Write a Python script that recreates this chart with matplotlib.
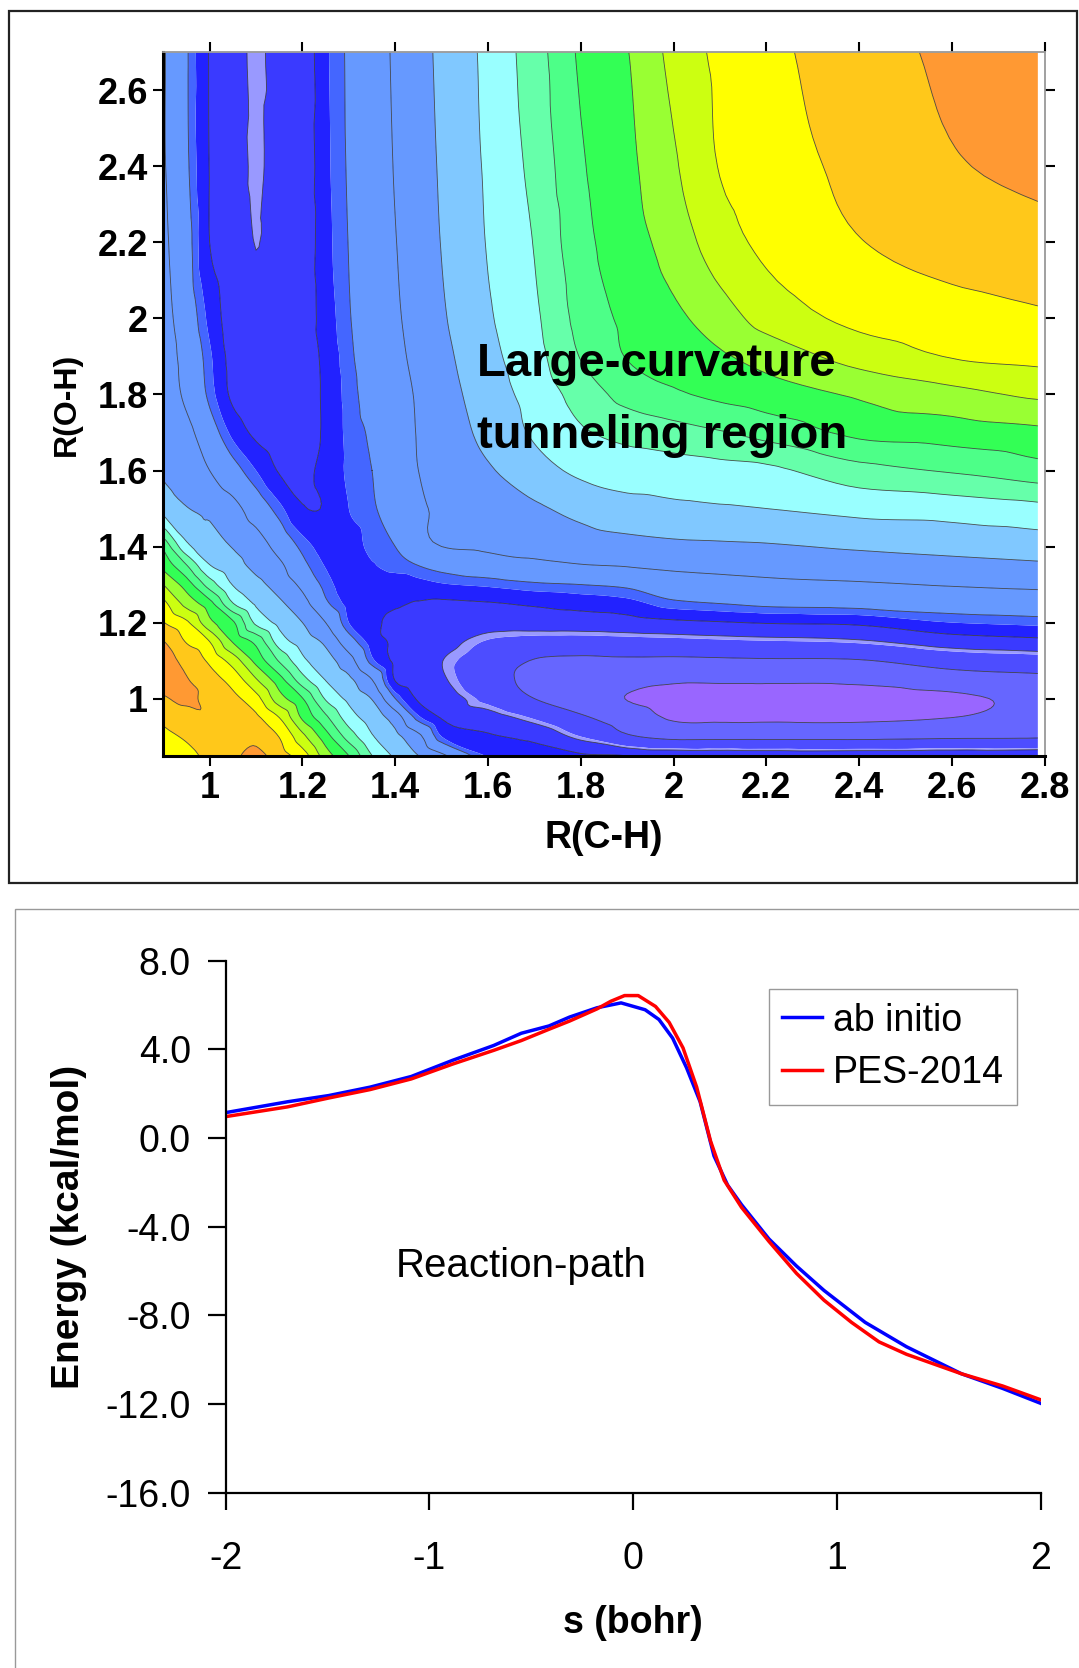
import numpy as np
import matplotlib.pyplot as plt
import matplotlib.tri as mtri
from matplotlib.patches import Rectangle

plt.rcParams['font.family'] = ['Liberation Sans', 'DejaVu Sans']
plt.rcParams['axes.unicode_minus'] = False

# ---------------- top panel: potential energy surface (band values)
r_ch = [0.90, 0.95, 1.00, 1.05, 1.10, 1.15, 1.20, 1.25, 1.30, 1.35, 1.40, 1.45, 1.50,
        1.60, 1.70, 1.80, 1.90, 2.00, 2.10, 2.20, 2.40, 2.60, 2.785]
r_oh = [0.85, 0.90, 0.95, 1.00, 1.05, 1.10, 1.15, 1.20, 1.25, 1.30, 1.35, 1.40, 1.50,
        1.60, 1.70, 1.80, 1.90, 2.00, 2.20, 2.40, 2.70]

energy_level = [
    [14.55, 14.8, 15.2, 15.8, 16.25, 15.45, 14.47, 12.5, 11.0, 9.0, 7.83, 7.0, 6.2, 4.55, 4.35, 4.12, 3.98, 3.85, 3.8, 3.75, 3.75, 3.8, 3.85],
    [14.8, 15.1, 15.45, 15.85, 15.75, 14.97, 13.28, 11.44, 9.57, 8.1, 7.28, 6.23, 4.6, 4.1, 3.8, 3.0, 2.15, 1.75, 1.75, 1.75, 1.75, 1.85, 1.9],
    [15.2, 15.55, 15.9, 15.65, 15.2, 14.0, 11.84, 10.22, 8.5, 7.5, 6.54, 4.73, 3.95, 3.52, 2.92, 2.15, 1.5, 0.9, 0.85, 0.85, 0.85, 1.0, 1.4],
    [15.9, 16.2, 15.7, 15.24, 14.34, 12.43, 11.05, 8.9, 7.75, 6.95, 5.0, 3.9, 3.6, 2.8, 2.0, 1.45, 0.98, 0.72, 0.62, 0.55, 0.6, 0.82, 1.25],
    [16.3, 16.05, 15.43, 14.6, 13.08, 11.4, 9.4, 7.95, 7.2, 6.0, 3.95, 3.6, 3.3, 2.4, 1.75, 1.35, 1.3, 1.12, 1.13, 1.15, 1.2, 1.55, 1.75],
    [16.35, 15.74, 14.8, 13.56, 11.68, 9.9, 8.24, 7.39, 6.38, 4.73, 3.85, 3.5, 3.22, 2.6, 1.95, 1.8, 1.85, 1.82, 1.86, 1.9, 1.95, 2.45, 2.65],
    [16.05, 14.93, 14.0, 11.92, 10.73, 8.53, 7.56, 6.8, 5.4, 4.35, 3.88, 3.65, 3.45, 2.95, 2.75, 2.7, 2.75, 2.8, 2.88, 2.95, 3.1, 3.6, 3.8],
    [15.05, 14.17, 12.27, 11.15, 8.79, 7.72, 7.0, 6.0, 4.6, 4.2, 3.75, 3.6, 3.55, 3.5, 3.55, 3.6, 3.7, 3.85, 3.95, 4.05, 4.15, 4.6, 4.75],
    [14.3, 12.65, 11.35, 9.05, 7.85, 7.18, 6.35, 5.14, 4.45, 4.35, 4.1, 3.95, 3.88, 3.95, 4.1, 4.25, 4.4, 4.85, 5.0, 5.15, 5.25, 5.4, 5.5],
    [13.0, 11.53, 9.53, 7.95, 7.3, 6.6, 5.78, 4.8, 4.35, 4.3, 4.25, 4.4, 4.55, 4.7, 4.9, 5.0, 5.15, 5.55, 5.67, 5.78, 5.9, 6.06, 6.18],
    [11.7, 10.07, 8.05, 7.4, 6.74, 6.2, 5.2, 4.57, 4.4, 4.55, 4.8, 5.0, 5.25, 5.55, 5.8, 5.95, 6.05, 6.18, 6.27, 6.36, 6.52, 6.7, 6.85],
    [10.8, 8.28, 7.49, 6.95, 6.5, 5.64, 4.85, 4.4, 4.35, 4.75, 5.0, 5.7, 6.0, 6.15, 6.25, 6.5, 6.65, 6.78, 6.84, 6.9, 7.12, 7.3, 7.48],
    [7.66, 7.05, 6.75, 6.3, 5.5, 4.75, 4.05, 4.05, 4.6, 4.92, 5.35, 5.85, 6.15, 6.46, 6.85, 7.3, 7.64, 7.8, 7.9, 8.0, 8.3, 8.45, 8.72],
    [6.85, 6.45, 6.0, 5.3, 4.6, 3.95, 3.85, 4.2, 4.7, 5.0, 5.5, 6.0, 6.3, 6.9, 7.6, 8.2, 8.5, 8.55, 8.67, 8.78, 9.65, 10.1, 10.6],
    [6.6, 6.25, 5.4, 4.45, 3.85, 3.65, 3.75, 4.1, 4.75, 5.1, 5.62, 6.05, 6.46, 7.27, 8.14, 8.86, 9.3, 9.6, 9.93, 10.35, 11.24, 11.48, 11.76],
    [6.5, 5.82, 4.85, 3.85, 3.5, 3.5, 3.7, 4.12, 4.8, 5.25, 5.67, 6.1, 6.57, 7.52, 8.38, 9.4, 10.35, 10.85, 11.22, 11.53, 12.14, 12.68, 13.17],
    [6.4, 5.7, 4.7, 3.75, 3.4, 3.45, 3.65, 4.17, 4.88, 5.33, 5.78, 6.24, 6.73, 7.72, 8.65, 10.05, 11.05, 11.38, 11.86, 12.37, 13.4, 14.05, 14.25],
    [6.35, 5.5, 4.45, 3.65, 3.32, 3.42, 3.6, 4.3, 4.95, 5.42, 5.87, 6.36, 6.88, 7.88, 8.82, 10.33, 11.22, 11.78, 12.52, 13.36, 14.25, 14.6, 14.85],
    [6.2, 5.3, 4.0, 3.55, 3.19, 3.45, 3.55, 4.4, 5.02, 5.5, 5.97, 6.5, 7.03, 8.06, 9.05, 10.67, 11.55, 12.42, 13.55, 14.22, 14.96, 15.4, 15.6],
    [6.1, 5.12, 3.98, 3.5, 3.13, 3.45, 3.55, 4.45, 5.07, 5.55, 6.05, 6.58, 7.11, 8.15, 9.3, 10.87, 11.75, 12.87, 14.05, 14.52, 15.27, 15.9, 16.3],
    [6.1, 5.08, 3.96, 3.5, 3.1, 3.45, 3.55, 4.49, 5.1, 5.6, 6.12, 6.67, 7.2, 8.26, 9.54, 11.16, 11.96, 13.3, 14.23, 14.74, 15.53, 16.24, 16.8],
]

band_levels = [-1, 1, 2, 3, 3.2, 4, 4.6, 5, 6, 7, 8, 9, 10, 11, 12, 13, 14, 15, 16, 30]
band_colors = ['#9966FF', '#6666FF', '#4D4DFF', '#9999FF', '#3A3AFF', '#2222FF', '#4466FF',
               '#6699FF', '#6699FF', '#80C8FF', '#99FFFF', '#66FFAA', '#4DFF88', '#33FF55',
               '#99FF33', '#CCFF11', '#FFFF00', '#FFC81A', '#FF9933']
line_levels = [1, 2, 3.2, 4, 5, 6, 7, 8, 9, 10, 11, 12, 13, 14, 15, 16]

# ---------------- bottom panel: energy along the reaction path
s_abinitio = [-2.0, -1.696, -1.494, -1.291, -1.089, -0.886, -0.684, -0.549, -0.413, -0.312,
              -0.177, -0.059, 0.059, 0.127, 0.194, 0.262, 0.329, 0.397, 0.464, 0.532,
              0.667, 0.802, 0.937, 1.139, 1.342, 1.612, 1.814, 2.0]
e_abinitio = [1.15, 1.64, 1.92, 2.30, 2.78, 3.51, 4.18, 4.73, 5.06, 5.46,
              5.88, 6.10, 5.79, 5.35, 4.51, 3.18, 1.64, -0.80, -2.12, -3.0,
              -4.55, -5.77, -6.87, -8.31, -9.41, -10.63, -11.29, -11.96]
s_pes = [-2.0, -1.696, -1.494, -1.291, -1.089, -0.886, -0.684, -0.549, -0.413, -0.312,
         -0.177, -0.110, -0.042, 0.025, 0.110, 0.177, 0.245, 0.312, 0.380, 0.447,
         0.532, 0.667, 0.802, 0.937, 1.072, 1.207, 1.342, 1.612, 1.814, 2.0]
e_pes = [0.97, 1.41, 1.81, 2.19, 2.67, 3.34, 3.96, 4.40, 4.91, 5.28,
         5.83, 6.17, 6.43, 6.43, 5.94, 5.22, 4.07, 2.30, -0.13, -1.90,
         -3.12, -4.66, -6.10, -7.31, -8.31, -9.19, -9.75, -10.63, -11.18, -11.80]

fig = plt.figure(figsize=(10.79, 16.68), dpi=100)

# panel frames
fig.add_artist(Rectangle((0.0088, 0.4706), 0.9895, 0.5228, transform=fig.transFigure,
                         fill=False, ec='#222222', lw=1.6))
fig.add_artist(Rectangle((0.0139, -0.01), 1.0, 0.465, transform=fig.transFigure,
                         fill=False, ec='#999999', lw=1.0))

# ---- contour map (smoothed on a refined triangulation)
gx, gy = np.meshgrid(r_ch, r_oh)
tri = mtri.Triangulation(gx.ravel(), gy.ravel())
zz = np.asarray(energy_level).ravel()
interp = mtri.CubicTriInterpolator(tri, zz, kind='geom')
tri_f, z_f = mtri.UniformTriRefiner(tri).refine_field(zz, triinterpolator=interp, subdiv=3)

ax1 = fig.add_axes([0.1513, 0.5470, 0.8170, 0.4216])
ax1.tricontourf(tri_f, z_f, levels=band_levels, colors=band_colors, antialiased=True)
ax1.tricontour(tri_f, z_f, levels=line_levels, colors='#303030', linewidths=0.6, alpha=0.85)
ax1.set_xlim(0.9, 2.8)
ax1.set_ylim(0.85, 2.7)
ax1.set_xticks([1, 1.2, 1.4, 1.6, 1.8, 2, 2.2, 2.4, 2.6, 2.8])
ax1.set_xticklabels(['1', '1.2', '1.4', '1.6', '1.8', '2', '2.2', '2.4', '2.6', '2.8'])
ax1.set_yticks([1, 1.2, 1.4, 1.6, 1.8, 2, 2.2, 2.4, 2.6])
ax1.set_yticklabels(['1', '1.2', '1.4', '1.6', '1.8', '2', '2.2', '2.4', '2.6'])
ax1.tick_params(direction='out', length=7, width=1.5, labelsize=26, pad=4,
                top=True, right=True)
for lab in ax1.get_xticklabels() + ax1.get_yticklabels():
    lab.set_fontweight('bold')
for side in ['left', 'bottom']:
    ax1.spines[side].set_linewidth(2.2)
    ax1.spines[side].set_color('black')
for side in ['top', 'right']:
    ax1.spines[side].set_linewidth(1.3)
    ax1.spines[side].set_color('#999999')
for t in ax1.xaxis.get_ticklines()[1::2] + ax1.yaxis.get_ticklines()[1::2]:
    t.set_color('#999999')
ax1.set_xlabel('R(C-H)', fontsize=27, fontweight='bold', labelpad=10)
ax1.set_ylabel('R(O-H)', fontsize=23, fontweight='bold', labelpad=11)
ax1.text(1.576, 1.881, 'Large-curvature', fontsize=34, fontweight='bold', ha='left', va='center')
ax1.text(1.576, 1.691, 'tunneling region', fontsize=34, fontweight='bold', ha='left', va='center')

# ---- reaction path
ax2 = fig.add_axes([0.2091, 0.1050, 0.7553, 0.3190])
ax2.plot(s_abinitio, e_abinitio, color='#0000FF', lw=2.5, label='ab initio')
ax2.plot(s_pes, e_pes, color='#FF0000', lw=2.5, label='PES-2014')
ax2.set_xlim(-2, 2)
ax2.set_ylim(-16, 8)
ax2.set_xticks([-2, -1, 0, 1, 2])
ax2.set_yticks([-16, -12, -8, -4, 0, 4, 8])
ax2.set_yticklabels(['-16.0', '-12.0', '-8.0', '-4.0', '0.0', '4.0', '8.0'])
ax2.spines['top'].set_visible(False)
ax2.spines['right'].set_visible(False)
ax2.spines['left'].set_linewidth(1.6)
ax2.spines['bottom'].set_linewidth(1.6)
ax2.tick_params(axis='y', direction='out', length=13, width=1.6, labelsize=27, pad=12)
ax2.tick_params(axis='x', direction='out', length=12, width=1.6, labelsize=27, pad=23)
ax2.set_xlabel('s (bohr)', fontsize=27, fontweight='bold', labelpad=20)
ax2.set_ylabel('Energy (kcal/mol)', fontsize=28, fontweight='bold', labelpad=13)
ax2.text(-0.55, -5.75, 'Reaction-path', fontsize=29, ha='center', va='center')
ax2.legend(loc='upper left', bbox_to_anchor=(0.7127, 0.4068), bbox_transform=fig.transFigure,
           fontsize=27, frameon=True, fancybox=False, edgecolor='#999999', framealpha=1,
           handlelength=1.05, handletextpad=0.3, borderpad=0.35, labelspacing=0.45,
           borderaxespad=0)

fig.savefig('out.png', dpi=100)
